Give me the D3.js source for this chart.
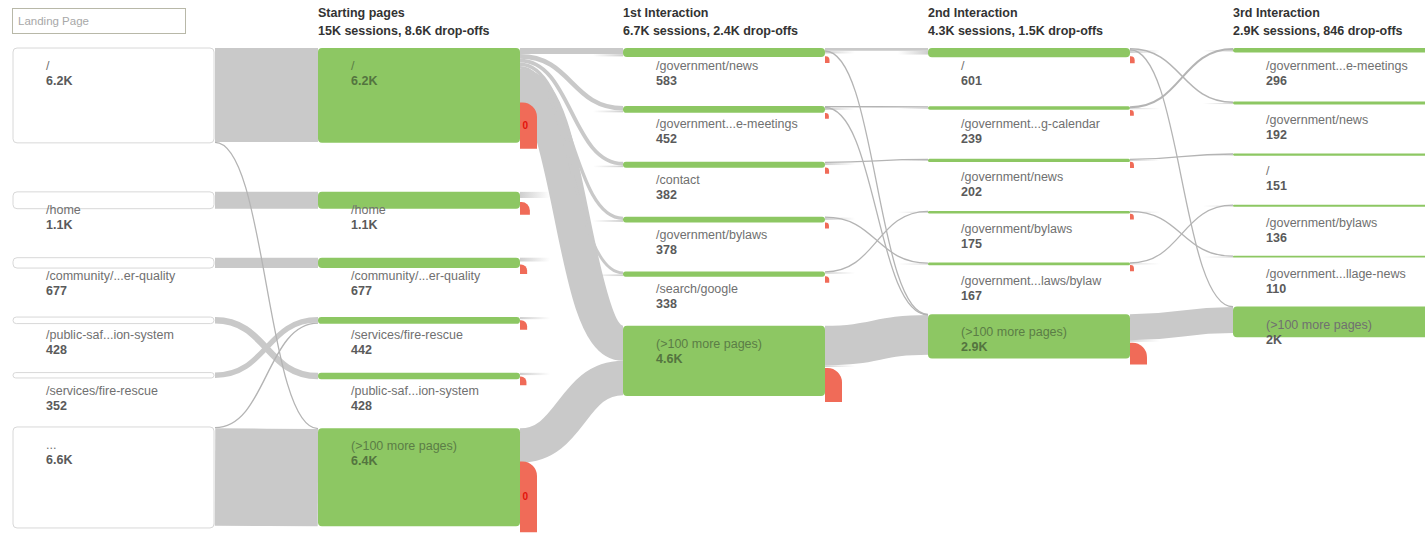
<!DOCTYPE html>
<html><head><meta charset="utf-8">
<script src="https://cdn.jsdelivr.net/npm/d3@7"></script>
<style>
html,body{margin:0;padding:0;background:#fff;overflow:hidden}
svg{display:block;font-family:"Liberation Sans",Arial,sans-serif}
</style>
</head><body>
<svg id="chart" width="1425" height="533"></svg>
<script>
// ---------- data ----------
const columnTitles = ["Landing Page", "Starting pages", "1st Interaction", "2nd Interaction", "3rd Interaction"];
const columnSubtitles = ["", "15K sessions, 8.6K drop-offs", "6.7K sessions, 2.4K drop-offs", "4.3K sessions, 1.5K drop-offs", "2.9K sessions, 846 drop-offs"];

const landingPages  = ["/", "/home", "/community/...er-quality", "/public-saf...ion-system", "/services/fire-rescue", "..."];
const landingValues = [6200, 1100, 677, 428, 352, 6600];

const startingPages  = ["/", "/home", "/community/...er-quality", "/services/fire-rescue", "/public-saf...ion-system", "(>100 more pages)"];
const startingValues = [6200, 1100, 677, 442, 428, 6400];
const startingDrops  = [2700, 500, 300, 300, 250, 4300];
const startingDropText = ["0", "", "", "", "", "0"];

const firstPages  = ["/government/news", "/government...e-meetings", "/contact", "/government/bylaws", "/search/google", "(>100 more pages)"];
const firstValues = [583, 452, 382, 378, 338, 4600];
const firstDrops  = [110, 60, 80, 70, 90, 1900];

const secondPages  = ["/", "/government...g-calendar", "/government/news", "/government/bylaws", "/government...laws/bylaw", "(>100 more pages)"];
const secondValues = [601, 239, 202, 175, 167, 2900];
const secondDrops  = [120, 60, 70, 60, 70, 1100];

const thirdPages  = ["/government...e-meetings", "/government/news", "/", "/government/bylaws", "/government...llage-news", "(>100 more pages)"];
const thirdValues = [296, 192, 151, 136, 110, 2000];

// links: [sourceIndex, targetIndex, sessions]; -1 = faded stub (flow to / from pages not shown)
const linksLandingToStart = [[0,0,6150],[0,5,40],[1,1,1100],[2,2,677],[3,4,428],[4,3,352],[5,3,90],[5,5,6360]];
const linksStartToFirst = [[0,0,400],[0,1,300],[0,2,250],[0,3,220],[0,4,190],[0,5,2300],
  [1,-1,400],[2,-1,250],[3,-1,140],[4,-1,150],[5,5,2250],
  [-1,0,150],[-1,1,120],[-1,2,100],[-1,3,120],[-1,4,110]];
const linksFirstToSecond = [[0,0,180],[0,5,30],[0,-1,150],[1,1,90],[1,5,25],[1,-1,150],
  [2,2,60],[2,-1,150],[3,4,60],[3,-1,150],[4,3,50],[4,-1,100],[5,5,2600],[5,-1,100],
  [-1,0,250],[-1,1,80],[-1,2,80],[-1,3,70],[-1,4,60]];
const linksSecondToThird = [[0,1,100],[0,5,30],[0,-1,200],[1,0,130],[1,-1,50],
  [2,2,70],[2,-1,60],[3,4,45],[3,-1,50],[4,3,50],[4,-1,40],[5,5,1700],[5,-1,100],
  [-1,0,100],[-1,1,60],[-1,2,50],[-1,3,50],[-1,4,40]];

// ---------- layout ----------
const svg = d3.select("#chart");
const vScale = d3.scaleLinear().domain([0, 1000]).range([0, 15.3]);
const xCol = d3.scaleLinear().domain([0, 4]).range([13, 1233]);
const NODE_W = 202, TOP = 48, GAP = 49, FADE = 30;
const GREEN = "#8dc763", RED = "#f06b58", BAND = "#c9c9c9", LINE = "#b4b4b4";

const columns = [
  {pages: landingPages, values: landingValues, drops: null},
  {pages: startingPages, values: startingValues, drops: startingDrops, dropText: startingDropText},
  {pages: firstPages, values: firstValues, drops: firstDrops},
  {pages: secondPages, values: secondValues, drops: secondDrops},
  {pages: thirdPages, values: thirdValues, drops: null}
];
columns.forEach((col, ci) => {
  let y = TOP;
  col.nodes = col.pages.map((p, i) => {
    const h = Math.max(1.5, vScale(col.values[i]));
    const n = {ci, i, name: p, value: col.values[i], x: xCol(ci), y0: y, y1: y + h, h};
    y += h + GAP;
    return n;
  });
});

const fmt = v => {
  if (v < 1000) return String(v);
  const s = Math.round(v / 100) / 10;
  return (s % 1 === 0 ? s.toFixed(0) : s.toFixed(1)) + "K";
};

const linkSets = [linksLandingToStart, linksStartToFirst, linksFirstToSecond, linksSecondToThird];
const key = i => (i < 0 ? 99 : i);
const allLinks = [];
linkSets.forEach((set, p) => {
  const src = columns[p].nodes, tgt = columns[p + 1].nodes;
  const L = set.map(([s, t, v]) => ({s, t, v, p, w: vScale(v)}));
  src.forEach((n, i) => {
    let off = 0;
    L.filter(l => l.s === i).sort((a, b) => key(a.t) - key(b.t)).forEach(l => { l.ys = n.y0 + off + l.w / 2; off += l.w; });
  });
  tgt.forEach((n, i) => {
    let off = 0;
    L.filter(l => l.t === i).sort((a, b) => key(a.s) - key(b.s)).forEach(l => { l.yt = n.y0 + off + l.w / 2; off += l.w; });
  });
  L.forEach(l => { l.xs = xCol(p) + NODE_W; l.xt = xCol(p + 1); });
  allLinks.push(...L);
});

// gradients for faded stubs
const defs = svg.append("defs");
const gOut = defs.append("linearGradient").attr("id", "fadeOut");
gOut.append("stop").attr("offset", 0).attr("stop-color", BAND).attr("stop-opacity", 0.9);
gOut.append("stop").attr("offset", 1).attr("stop-color", BAND).attr("stop-opacity", 0);
const gIn = defs.append("linearGradient").attr("id", "fadeIn");
gIn.append("stop").attr("offset", 0).attr("stop-color", BAND).attr("stop-opacity", 0);
gIn.append("stop").attr("offset", 1).attr("stop-color", BAND).attr("stop-opacity", 0.9);

// ---------- links ----------
const gLinks = svg.append("g");
gLinks.selectAll("rect.fo").data(allLinks.filter(l => l.t < 0)).join("rect")
  .attr("x", l => l.xs).attr("y", l => l.ys - l.w / 2).attr("width", FADE).attr("height", l => Math.max(1, l.w))
  .attr("fill", "url(#fadeOut)");
gLinks.selectAll("rect.fi").data(allLinks.filter(l => l.s < 0)).join("rect")
  .attr("x", l => l.xt - FADE).attr("y", l => l.yt - l.w / 2).attr("width", FADE).attr("height", l => Math.max(1, l.w))
  .attr("fill", "url(#fadeIn)");
const linkGen = d3.linkHorizontal();
const real = allLinks.filter(l => l.s >= 0 && l.t >= 0).sort((a, b) => b.w - a.w);
gLinks.selectAll("path").data(real).join("path")
  .attr("d", l => linkGen({source: [l.xs, l.ys], target: [l.xt, l.yt]}))
  .attr("fill", "none")
  .attr("stroke", l => l.w < 2.5 ? LINE : BAND)
  .attr("stroke-width", l => Math.max(1.3, l.w));

// ---------- nodes ----------
const gNodes = svg.append("g");
columns.forEach((col, ci) => {
  gNodes.selectAll(null).data(col.nodes).join("rect")
    .attr("x", n => n.x).attr("y", n => n.y0)
    .attr("width", ci === 0 ? NODE_W - 1 : NODE_W).attr("height", n => n.h)
    .attr("rx", n => Math.min(4, n.h / 2)).attr("ry", n => Math.min(4, n.h / 2))
    .attr("fill", ci === 0 ? "#fff" : GREEN)
    .attr("stroke", ci === 0 ? "#d8d8d8" : "none");
});

// ---------- drop-offs ----------
const gDrops = svg.append("g");
columns.forEach(col => {
  if (!col.drops) return;
  col.nodes.forEach((n, i) => {
    const dh = vScale(col.drops[i]);
    const h = dh + 5;
    const w = Math.min(17, 3 + dh * 0.9);
    const x0 = n.x + NODE_W, bottom = n.y1 + 6, top = bottom - h;
    const r = Math.min(w, h) * 0.85;
    gDrops.append("path")
      .attr("d", `M${x0},${top} H${x0 + w - r} A${r},${r} 0 0 1 ${x0 + w},${top + r} V${bottom} H${x0} Z`)
      .attr("fill", RED);
    if (col.dropText && col.dropText[i]) {
      gDrops.append("text").attr("x", x0 + 2.5).attr("y", (top + bottom) / 2 + 3.5)
        .attr("font-size", 10).attr("font-weight", "bold").attr("fill", "#e3120b").text(col.dropText[i]);
    }
  });
});

// ---------- labels ----------
const gLabels = svg.append("g").attr("font-size", 12.5);
columns.forEach((col, ci) => {
  col.nodes.forEach(n => {
    const inside = ci > 0 && n.h > 40;
    gLabels.append("text").attr("x", n.x + 33).attr("y", n.y0 + 22)
      .attr("fill", inside ? "#5b7d46" : "#707070").text(n.name);
    gLabels.append("text").attr("x", n.x + 33).attr("y", n.y0 + 37)
      .attr("font-weight", "bold").attr("fill", inside ? "#54743f" : "#5a5a5a").text(fmt(n.value));
  });
});

// ---------- headers ----------
const gHead = svg.append("g");
gHead.append("rect").attr("x", 12.5).attr("y", 8.5).attr("width", 173).attr("height", 25)
  .attr("fill", "#fff").attr("stroke", "#b8b8a8");
gHead.append("text").attr("x", 18).attr("y", 25).attr("font-size", 11.5).attr("fill", "#a8a8a8").text(columnTitles[0]);
columnTitles.slice(1).forEach((t, j) => {
  const ci = j + 1;
  gHead.append("text").attr("x", xCol(ci)).attr("y", 17).attr("font-size", 12.5).attr("font-weight", "bold").attr("fill", "#333").text(t);
  gHead.append("text").attr("x", xCol(ci)).attr("y", 35).attr("font-size", 12.5).attr("font-weight", "bold").attr("fill", "#333").text(columnSubtitles[ci]);
});
</script>
</body></html>
